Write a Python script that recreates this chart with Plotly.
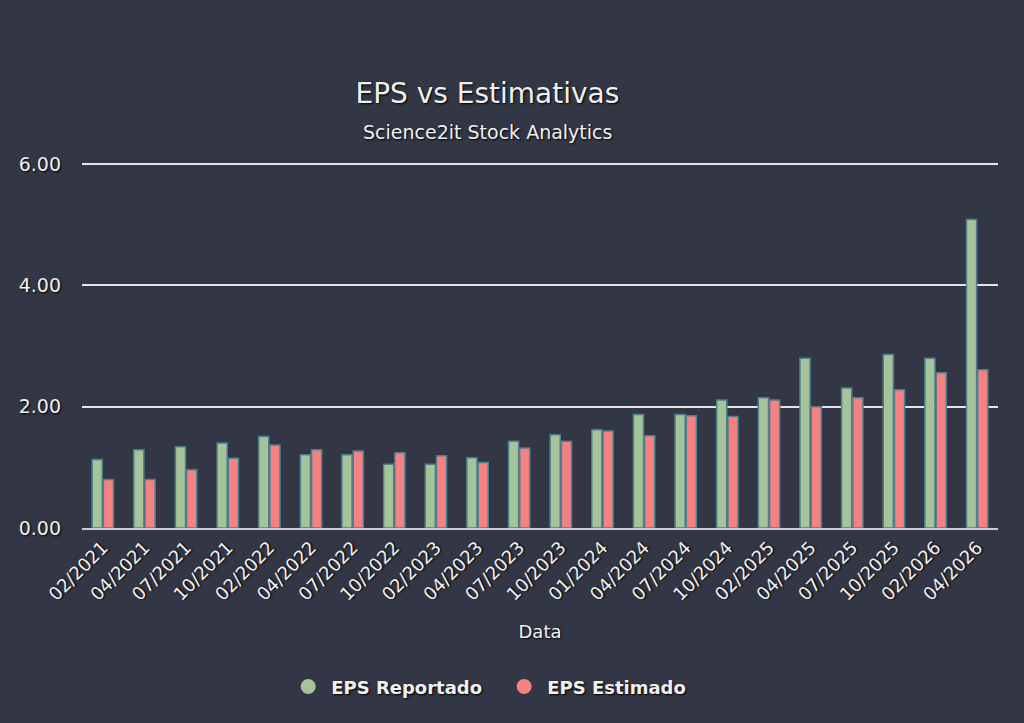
import plotly.graph_objects as go

datas = ["02/2021", "04/2021", "07/2021", "10/2021", "02/2022", "04/2022", "07/2022",
         "10/2022", "02/2023", "04/2023", "07/2023", "10/2023", "01/2024", "04/2024",
         "07/2024", "10/2024", "02/2025", "04/2025", "07/2025", "10/2025", "02/2026", "04/2026"]
eps_reportado = [1.13, 1.29, 1.34, 1.40, 1.51, 1.21, 1.21, 1.05, 1.05, 1.16, 1.43, 1.54,
                 1.62, 1.87, 1.87, 2.11, 2.15, 2.80, 2.31, 2.86, 2.80, 5.09]
eps_estimado = [0.80, 0.80, 0.96, 1.15, 1.37, 1.29, 1.27, 1.24, 1.19, 1.08, 1.32, 1.43,
                1.60, 1.52, 1.85, 1.84, 2.11, 2.00, 2.15, 2.28, 2.56, 2.61]

BG = "#333745"
GREEN = "#a5c49a"
RED = "#f58282"
EDGE = "#4f7f8e"
TXT = "#f0f0f0"
FONT = "DejaVu Sans"
SHADOW = "1px 1px 2px #000000"

fig = go.Figure()
fig.add_trace(go.Bar(x=datas, y=eps_reportado, name="EPS Reportado", legendgroup="r",
                     showlegend=False, marker=dict(color=GREEN, line=dict(color=EDGE, width=1.5))))
fig.add_trace(go.Bar(x=datas, y=eps_estimado, name="EPS Estimado", legendgroup="e",
                     showlegend=False, marker=dict(color=RED, line=dict(color=EDGE, width=1.5))))
# legend entries with circle symbols
fig.add_trace(go.Scatter(x=[None], y=[None], mode="markers", name="EPS Reportado", legendgroup="r",
                         marker=dict(color=GREEN, size=15, symbol="circle")))
fig.add_trace(go.Scatter(x=[None], y=[None], mode="markers", name="EPS Estimado", legendgroup="e",
                         marker=dict(color=RED, size=15, symbol="circle")))

fig.update_layout(
    width=1024, height=723,
    paper_bgcolor=BG, plot_bgcolor=BG,
    margin=dict(l=82, r=26, t=163, b=195),
    font=dict(family=FONT, color=TXT, size=15),
    title=dict(text="EPS vs Estimativas", x=0.476, xanchor="center", y=1 - 93 / 723, yanchor="middle",
               font=dict(size=28, color=TXT, family=FONT, shadow=SHADOW)),
    barmode="group", bargap=0.46, bargroupgap=0.1,
    legend=dict(orientation="h", x=0.4576, xanchor="center", y=-0.435, yanchor="middle",
                font=dict(size=18, color=TXT, family=FONT, weight="bold", shadow=SHADOW),
                bgcolor="rgba(0,0,0,0)", itemsizing="trace", itemwidth=36, entrywidth=165),
    xaxis=dict(type="category", tickangle=-45, showgrid=False, showline=True, linecolor="#c8ced6",
               linewidth=2, ticks="", tickfont=dict(size=18, color=TXT, shadow=SHADOW),
               title=dict(text="Data", font=dict(size=18, color=TXT, shadow=SHADOW), standoff=22)),
    yaxis=dict(range=[0, 6.02], tickvals=[0, 2, 4, 6], tickformat=".2f", showgrid=True,
               gridcolor="#e2e4e8", gridwidth=1.5, zeroline=False, ticks="",
               tickfont=dict(size=19, color=TXT, shadow=SHADOW), ticklabelstandoff=20),
    annotations=[dict(text="Science2it Stock Analytics", xref="paper", yref="paper",
                      x=(487 - 82) / 916, y=(528 - 132) / 365, xanchor="center", yanchor="middle",
                      showarrow=False, font=dict(size=19, color=TXT, family=FONT, shadow=SHADOW))],
)

fig.write_html("out.html")
